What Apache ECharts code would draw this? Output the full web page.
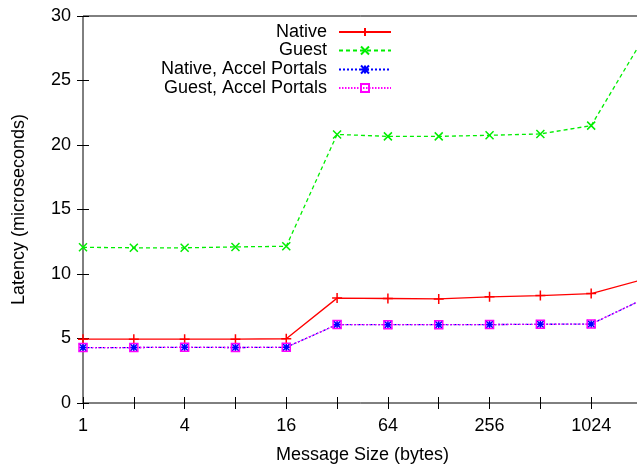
<!DOCTYPE html>
<html>
<head>
<meta charset="utf-8">
<script src="https://cdn.jsdelivr.net/npm/echarts@6/dist/echarts.min.js"></script>
<style>
html,body{margin:0;padding:0;background:#fff;}
#c{width:637px;height:464px;}
</style>
</head>
<body>
<div id="c"></div>
<script>
const sizes = [1, 2, 4, 8, 16, 32, 64, 128, 256, 512, 1024, 2048];
const xTickLabels = ['1', '4', '16', '64', '256', '1024'];
const seriesNames = ['Native', 'Guest', 'Native, Accel Portals', 'Guest, Accel Portals'];
const nativeLat = [4.95, 4.95, 4.95, 4.95, 4.98, 8.13, 8.1, 8.07, 8.23, 8.33, 8.48, 9.55];
const guestLat = [12.07, 12.03, 12.03, 12.1, 12.15, 20.82, 20.67, 20.67, 20.75, 20.86, 21.5, 28.1];
const nativeAccelLat = [4.3, 4.3, 4.32, 4.3, 4.32, 6.08, 6.07, 6.07, 6.08, 6.1, 6.12, 8.0];
const guestAccelLat = [4.3, 4.3, 4.32, 4.3, 4.32, 6.08, 6.07, 6.07, 6.08, 6.1, 6.12, 8.0];

const FONT = "'Liberation Sans', Arial, Helvetica, sans-serif";
// x axis is log2-scaled: position = log2(message size)
const pair = arr => sizes.map((s, i) => [Math.log2(s), arr[i]]);

const PLUS = 'path://M0,5L10,5M5,0L5,10';
const CROSS = 'path://M0,0L10,10M10,0L0,10';
const STAR = 'path://M0,5L10,5M5,0L5,10M0,0L10,10M10,0L0,10';
const SQUARE = 'path://M0,0L10,0L10,10L0,10Z';

const styles = [
  {color: '#ff0000', type: 'solid', symbol: PLUS, size: 10},
  {color: '#00ee00', type: [4, 3], symbol: CROSS, size: 8},
  {color: '#0000ff', type: [2, 2], symbol: STAR, size: 8},
  {color: '#ff00ff', type: [1.5, 1.5], symbol: SQUARE, size: 8}
];
const dataArrs = [nativeLat, guestLat, nativeAccelLat, guestAccelLat];

const series = seriesNames.map((name, i) => ({
  name: name,
  type: 'line',
  xAxisIndex: 0,
  yAxisIndex: 0,
  data: pair(dataArrs[i]),
  symbol: styles[i].symbol,
  symbolSize: styles[i].size,
  symbolKeepAspect: true,
  showAllSymbol: true,
  animation: false,
  lineStyle: {color: styles[i].color, width: 1.3, type: styles[i].type},
  itemStyle: {color: i === 3 ? 'rgba(0,0,0,0)' : styles[i].color, borderColor: styles[i].color, borderWidth: 1.5},
  emphasis: {disabled: true}
}));

const rowCenters = [33, 51.5, 70.5, 89];
const legends = seriesNames.map((name, i) => ({
  data: [name],
  orient: 'vertical',
  right: 245,
  top: rowCenters[i] - 10,
  padding: 0,
  align: 'right',
  itemWidth: 52,
  itemHeight: 10,
  selectedMode: false,
  textStyle: {fontFamily: FONT, fontSize: 18, color: '#000', padding: [0, 7, 0, 0]}
}));

const xBase = {
  type: 'value',
  min: 0,
  max: 11,
  interval: 1,
  splitLine: {show: false},
  axisLine: {show: false},
  axisTick: {show: true, inside: true, length: 6, lineStyle: {color: '#000', width: 1}}
};
const yBase = {
  type: 'value',
  min: 0,
  max: 30,
  interval: 5,
  splitLine: {show: false},
  axisLine: {show: false},
  axisTick: {show: true, inside: true, length: 6, lineStyle: {color: '#000', width: 1}}
};

const option = {
  backgroundColor: '#fff',
  animation: false,
  grid: {left: 83, right: -5, top: 16, bottom: 61, outerBoundsMode: 'none', containLabel: false, show: true, borderColor: '#000', borderWidth: 1, backgroundColor: 'transparent'},
  legend: legends,
  xAxis: [
    Object.assign({}, xBase, {
      position: 'bottom',
      name: 'Message Size (bytes)',
      nameLocation: 'middle',
      nameGap: 43,
      nameTextStyle: {fontFamily: FONT, fontSize: 18, color: '#000'},
      axisLabel: {
        fontFamily: FONT, fontSize: 18, color: '#000', margin: 14,
        formatter: v => { const s = String(Math.round(Math.pow(2, v))); return xTickLabels.includes(s) ? s : ''; }
      }
    }),
    Object.assign({}, xBase, {position: 'top', axisLabel: {show: false}})
  ],
  yAxis: [
    Object.assign({}, yBase, {
      position: 'left',
      name: 'Latency (microseconds)',
      nameLocation: 'middle',
      nameGap: 55,
      nameTextStyle: {fontFamily: FONT, fontSize: 18, color: '#000'},
      axisLabel: {fontFamily: FONT, fontSize: 18, color: '#000', margin: 12}
    }),
    Object.assign({}, yBase, {position: 'right', axisLabel: {show: false}})
  ],
  series: series
};

const chart = echarts.init(document.getElementById('c'), null, {renderer: 'canvas'});
chart.setOption(option);
</script>
</body>
</html>
